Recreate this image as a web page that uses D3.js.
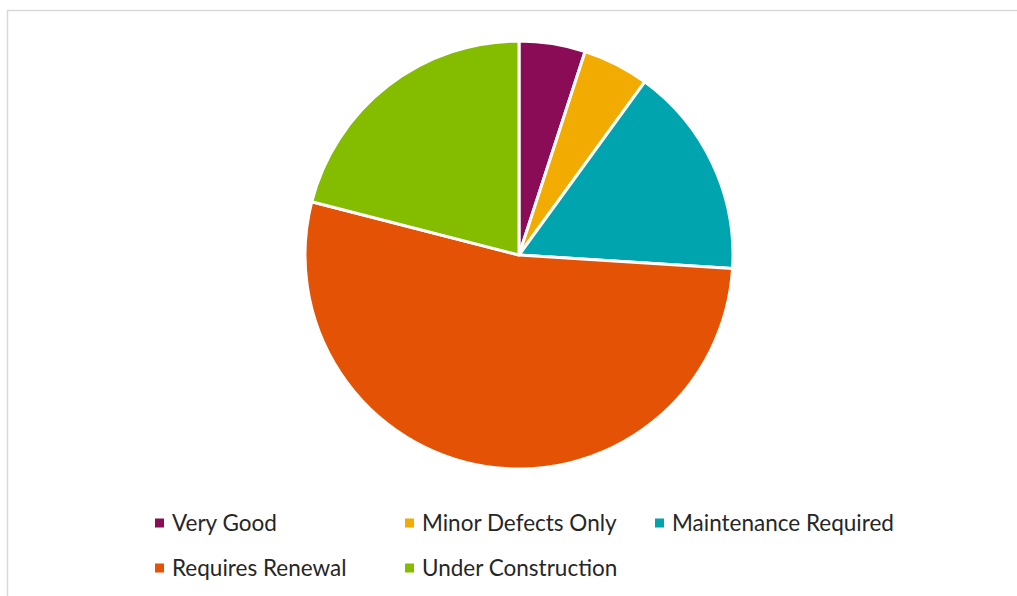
<!DOCTYPE html>
<html>
<head>
<meta charset="utf-8">
<script src="https://cdn.jsdelivr.net/npm/d3@7/dist/d3.min.js"></script>
<style>
  html, body { margin: 0; padding: 0; background: #fff; }
  svg { display: block; }
</style>
</head>
<body>
<svg id="chart" width="1017" height="596"></svg>
<script>
// Asset condition breakdown (percent of total)
const categories = ["Very Good", "Minor Defects Only", "Maintenance Required", "Requires Renewal", "Under Construction"];
const values = [5, 5, 16, 53, 21];
const colors = ["#8A0C56", "#F2AB00", "#00A4AF", "#E35205", "#84BD00"];

const svg = d3.select("#chart");
const W = 1017, H = 596;

// Chart frame (top and left edges visible)
svg.append("path")
  .attr("d", `M7.5,${H} V10.5 H${W}`)
  .attr("fill", "none")
  .attr("stroke", "#d9d9d9")
  .attr("stroke-width", 1.5);

const cx = 519, cy = 255, r = 214;

const pie = d3.pie().sort(null).value(d => d.value);
const arc = d3.arc().innerRadius(0).outerRadius(r);
const data = categories.map((c, i) => ({ name: c, value: values[i], color: colors[i] }));

svg.append("g")
  .attr("transform", `translate(${cx},${cy})`)
  .selectAll("path")
  .data(pie(data))
  .join("path")
  .attr("d", arc)
  .attr("fill", d => d.data.color)
  .attr("stroke", "#fff")
  .attr("stroke-width", 3)
  .attr("stroke-linejoin", "round");

// Legend: three columns, two rows
const colX = [155, 405, 655];
const rowY = [523, 568];
const legend = svg.append("g")
  .attr("font-family", "Lato, 'Open Sans', sans-serif")
  .attr("font-size", 22.5)
  .attr("fill", "#262626");

data.forEach((d, i) => {
  const x = colX[i % 3], y = rowY[Math.floor(i / 3)];
  const g = legend.append("g").attr("transform", `translate(${x},${y})`);
  g.append("rect").attr("x", 0).attr("y", -4.5).attr("width", 9).attr("height", 9).attr("fill", d.color);
  g.append("text").attr("x", 17).attr("y", 0).attr("dy", "0.35em").text(d.name);
});
</script>
</body>
</html>
